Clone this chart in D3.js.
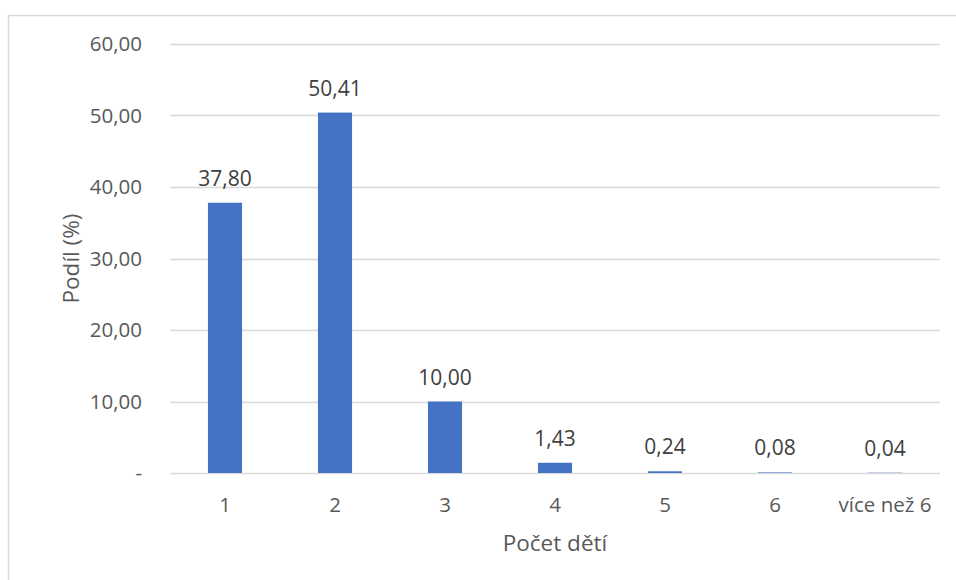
<!DOCTYPE html>
<html>
<head>
<meta charset="utf-8">
<script src="https://cdn.jsdelivr.net/npm/d3@7"></script>
<style>
  html, body { margin: 0; padding: 0; background: #fff; }
  svg { display: block; font-family: "Open Sans", "Noto Sans", sans-serif; }
</style>
</head>
<body>
<svg id="chart" width="956" height="580"></svg>
<script>
// Podíl domácností podle počtu dětí
const categories = ["1", "2", "3", "4", "5", "6", "více než 6"];
const shares = [37.80, 50.41, 10.00, 1.43, 0.24, 0.08, 0.04];
const yTicks = [0, 10, 20, 30, 40, 50, 60];
const xTitle = "Počet dětí";
const yTitle = "Podíl (%)";

const cz = d3.formatLocale({ decimal: ",", thousands: "\u00a0", grouping: [3], currency: ["", ""] });
const fmt = cz.format(".2f");
const tickFmt = v => v === 0 ? "-" : fmt(v);

const svg = d3.select("#chart");
const W = 956, H = 580;
const plot = { left: 170, right: 940, top: 44, bottom: 473 };

// outer chart frame
svg.append("rect")
  .attr("x", 8.5).attr("y", 15.5)
  .attr("width", W + 20).attr("height", H + 20)
  .attr("fill", "none").attr("stroke", "#d9d9d9").attr("stroke-width", 1.5);

const x = d3.scaleBand().domain(categories)
  .range([plot.left, plot.right]).paddingInner(0.69).paddingOuter(0.345);
const y = d3.scaleLinear().domain([0, 60]).range([plot.bottom, plot.top]);

// horizontal gridlines
svg.append("g").selectAll("line").data(yTicks).join("line")
  .attr("x1", plot.left).attr("x2", plot.right)
  .attr("y1", d => Math.round(y(d)) + 0.5).attr("y2", d => Math.round(y(d)) + 0.5)
  .attr("stroke", "#d9d9d9").attr("stroke-width", 1.3);

// y axis labels
const yAxis = d3.axisLeft(y).tickValues(yTicks).tickFormat(tickFmt).tickSize(0).tickPadding(0);
const gy = svg.append("g").attr("transform", `translate(142,0)`).call(yAxis);
gy.select(".domain").remove();
gy.selectAll("text").attr("fill", "#595959").style("font-size", "20.5px")
  .style("font-family", "\"Open Sans\", sans-serif");

// x axis labels
const xAxis = d3.axisBottom(x).tickSize(0).tickPadding(0);
const gx = svg.append("g").attr("transform", `translate(0,${plot.bottom + 24})`).call(xAxis);
gx.select(".domain").remove();
gx.selectAll("text").attr("fill", "#595959").style("font-size", "20.5px")
  .style("font-family", "\"Open Sans\", sans-serif");

// bars
svg.append("g").selectAll("rect").data(shares).join("rect")
  .attr("x", (d, i) => x(categories[i]))
  .attr("width", x.bandwidth())
  .attr("y", d => y(d))
  .attr("height", d => y(0) - y(d))
  .attr("fill", "#4472c4");

// value labels
svg.append("g").selectAll("text").data(shares).join("text")
  .attr("x", (d, i) => x(categories[i]) + x.bandwidth() / 2)
  .attr("y", d => y(d) - 17)
  .attr("text-anchor", "middle")
  .attr("fill", "#404040")
  .style("font-size", "21px")
  .text(d => fmt(d));

// axis titles
svg.append("text")
  .attr("x", (plot.left + plot.right) / 2).attr("y", 551)
  .attr("text-anchor", "middle").attr("fill", "#595959")
  .style("font-size", "22.5px").text(xTitle);

svg.append("text")
  .attr("transform", `translate(79,${(plot.top + plot.bottom) / 2}) rotate(-90)`)
  .attr("text-anchor", "middle").attr("fill", "#595959")
  .style("font-size", "22.5px").text(yTitle);
</script>
</body>
</html>
